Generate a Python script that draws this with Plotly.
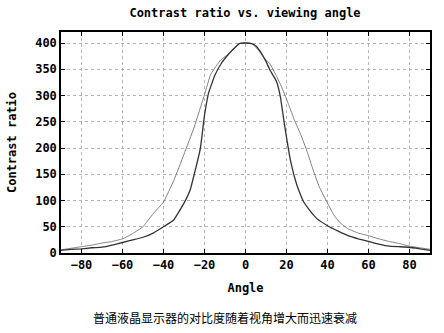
import plotly.graph_objects as go

# Narrow (dark) curve
angle_dark = [-90, -85, -80, -75, -70, -65, -60, -55, -50, -45, -40, -35, -30, -27, -25, -22, -20, -18, -15, -12, -8, -5, -3, 0,
              3, 5, 7, 10, 12, 15, 17, 19, 22, 25, 28, 32, 35, 40, 45, 50, 55, 60, 65, 70, 75, 80, 85, 90]
cr_dark = [5, 7, 8, 10, 11, 15, 20, 25, 30, 38, 50, 63, 95, 120, 150, 200, 262, 305, 338, 360, 380, 392, 399, 400,
           399, 395, 385, 365, 348, 328, 298, 245, 175, 130, 100, 78, 65, 52, 42, 33, 27, 22, 17, 13, 12, 11, 8, 5]

# Wide (light) curve
angle_light = [-90, -85, -80, -75, -70, -65, -60, -55, -50, -45, -40, -35, -30, -25, -20, -17, -14, -12, -8, -5, -3, 0,
               3, 6, 9, 12, 15, 18, 21, 24, 27, 30, 33, 36, 40, 43, 46, 50, 55, 60, 65, 70, 75, 80, 85, 90]
cr_light = [6, 9, 12, 15, 19, 22, 27, 37, 50, 75, 97, 138, 188, 240, 302, 340, 358, 368, 380, 392, 399, 400,
            399, 388, 372, 360, 338, 313, 283, 252, 225, 194, 158, 126, 95, 73, 58, 46, 38, 33, 27, 22, 18, 13, 10, 7]

x_ticks = [-80, -60, -40, -20, 0, 20, 40, 60, 80]
y_ticks = [0, 50, 100, 150, 200, 250, 300, 350, 400]

mono = dict(family="DejaVu Sans Mono", size=12, color="black", weight="bold")

fig = go.Figure()
fig.add_trace(go.Scatter(x=angle_light, y=cr_light, mode="lines",
                         line=dict(color="#808080", width=1, shape="spline", smoothing=0.3),
                         showlegend=False))
fig.add_trace(go.Scatter(x=angle_dark, y=cr_dark, mode="lines",
                         line=dict(color="#333333", width=1.3, shape="spline", smoothing=0.3),
                         showlegend=False))

axis_common = dict(showline=True, linecolor="black", linewidth=1.5, mirror="ticks",
                   ticks="inside", ticklen=4, tickcolor="black",
                   showgrid=True, gridcolor="#b4b4b4", griddash="3px,3px", gridwidth=1,
                   zeroline=False, tickfont=mono)

fig.update_layout(
    width=444, height=333,
    margin=dict(l=61, r=14, t=32, b=80),
    paper_bgcolor="white", plot_bgcolor="white",
    title=dict(text="Contrast ratio vs. viewing angle", x=245 / 444, xanchor="center",
               y=1 - 13 / 333, yanchor="middle", font=mono),
    xaxis=dict(range=[-90, 90], tickvals=x_ticks,
               title=dict(text="Angle", font=mono, standoff=12), **axis_common),
    yaxis=dict(range=[0, 421], tickvals=y_ticks,
               title=dict(text="Contrast ratio", font=mono, standoff=16), **axis_common),
    annotations=[dict(text="普通液晶显示器的对比度随着视角增大而迅速衰减", xref="paper", yref="paper",
                      x=(225 - 61) / 369, y=-(318 - 253) / 221.5, xanchor="center", yanchor="middle",
                      showarrow=False, font=dict(family="Noto Sans CJK SC", size=12, color="black"))],
)

fig.write_html("out.html")
